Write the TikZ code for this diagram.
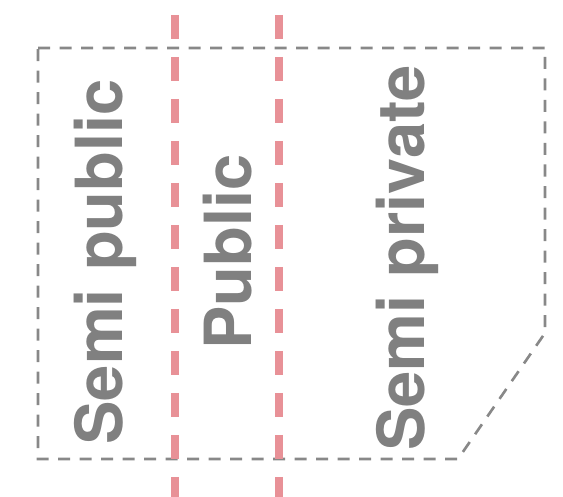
\documentclass[tikz,border=0pt]{standalone}
\usepackage{fontspec}
\setmainfont{TeX Gyre Heros}
\usepackage{xcolor}
\usepackage{tikz}
\usetikzlibrary{positioning}

\definecolor{zonegray}{RGB}{128,128,128}
\definecolor{edgegray}{RGB}{136,136,136}
\definecolor{streetred}{RGB}{232,145,151}

\tikzset{
  zone/.style={draw=edgegray, line width=1.5pt, dash pattern=on 0.24cm off 0.19cm},
  street/.style={draw=streetred, line width=0.16cm, dash pattern=on 0.48cm off 0.36cm},
  zonelabel/.style={rotate=90, anchor=base, text=zonegray, inner sep=0pt,
    font=\fontsize{37}{37}\selectfont\bfseries}
}

\begin{document}
\begin{tikzpicture}[x=1cm,y=1cm]
\useasboundingbox (0,0) rectangle (11.26,9.94);
% plot outline, corner cut off
\draw[zone] (0.76,8.98) -- (10.90,8.98) -- (10.90,3.28) -- (9.16,0.76) -- (0.76,0.76) -- cycle;

% street edges
\coordinate (streetAtop) at (3.50,9.64);
\coordinate (streetAbot) at (3.50,0);
\coordinate (streetBtop) at (5.58,9.64);
\coordinate (streetBbot) at (5.58,0);
\draw[street] (streetAtop) -- (streetAbot);
\draw[street] (streetBtop) -- (streetBbot);

% zone names
\node[zonelabel] (semipub) at (2.44,4.70) {Semi public};
\node[zonelabel] (pub) at (5.02,4.90) {Public};
\node[zonelabel] (semipriv) at (8.48,4.78) {Semi private};
\end{tikzpicture}
\end{document}
